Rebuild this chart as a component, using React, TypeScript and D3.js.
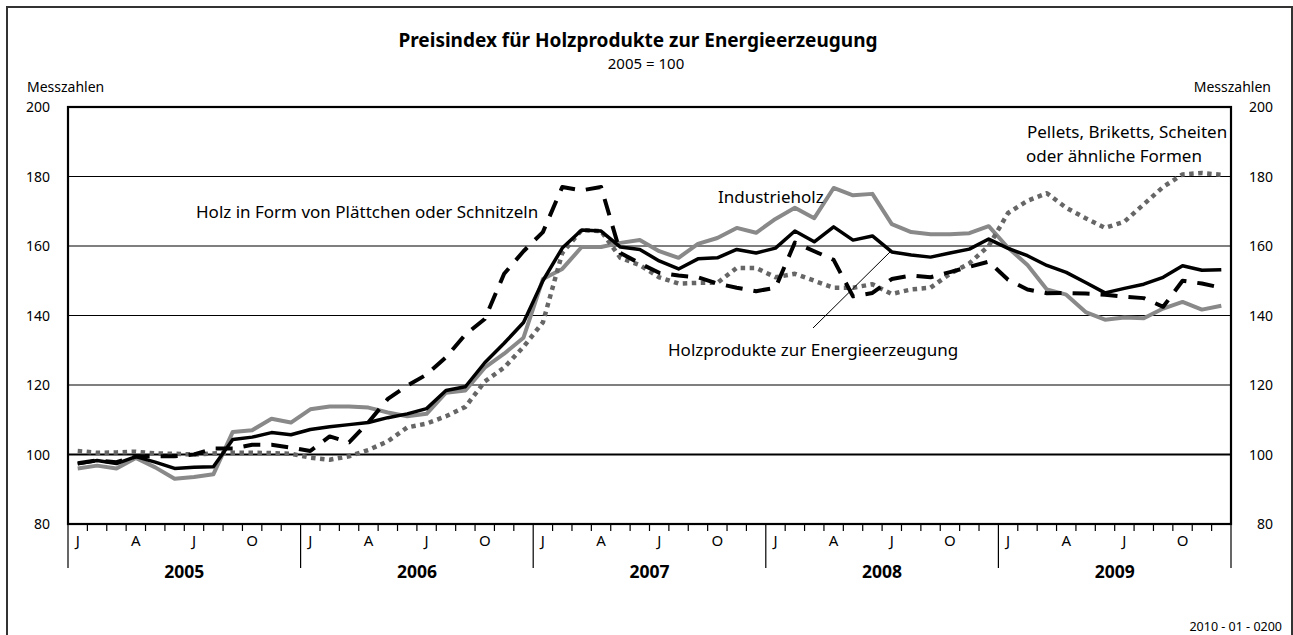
import React from "react";
import { scaleLinear, line, range } from "d3";

const width = 1293;
const height = 635;
const plot = { left: 68, right: 1231, top: 107, bottom: 524 };
const font = "'Noto Sans', 'Open Sans', sans-serif";

const years = ["2005", "2006", "2007", "2008", "2009"];
const quarterLetters = ["J", "A", "J", "O"];
const yTicks = [80, 100, 120, 140, 160, 180, 200];

// Holzprodukte zur Energieerzeugung (black solid)
const energie = [
  97.3, 98.3, 97.4, 99.4, 97.8, 96, 96.3, 96.5, 104.3, 105, 106.3, 105.7,
  107.2, 108, 108.6, 109.2, 110.6, 111.7, 113.2, 118.4, 119.5, 126.4, 132, 138,
  150, 159.4, 164.6, 164.3, 159.7, 159, 155.7, 153.4, 156.3, 156.6, 159, 158,
  159.4, 164.3, 161.2, 165.5, 161.7, 162.9, 158.3, 157.4, 156.8, 158, 159.1, 162,
  159.3, 157.2, 154.4, 152.4, 149.5, 146.5, 147.8, 149, 151, 154.3, 153, 153.2,
];

// Industrieholz (gray solid)
const industrie = [
  96, 96.8, 96, 99, 96.3, 93, 93.5, 94.3, 106.5, 107, 110.3, 109.2,
  113, 113.8, 113.8, 113.5, 112.1, 111, 111.7, 117.8, 118.4, 125, 129, 133.6,
  150.5, 153.4, 159.7, 159.7, 160.9, 161.7, 158.5, 156.6, 160.6, 162.3, 165.2, 163.8,
  167.8, 171, 168, 176.7, 174.6, 175, 166.3, 164, 163.4, 163.4, 163.7, 165.7,
  159.5, 154.5, 147.5, 146, 141, 138.8, 139.4, 139.2, 142, 143.9, 141.7, 142.8,
];

// Holz in Form von Plättchen oder Schnitzeln (black dashed)
const schnitzel = [
  97.5, 98.3, 97.8, 99.4, 99.5, 99.5, 100, 101.7, 101.7, 102.8, 102.8, 102,
  101, 105.2, 103.5, 109.3, 116, 119.8, 123, 128, 134.5, 139, 152, 158.5,
  164, 177, 176, 177, 158, 155, 152.3, 151.5, 151, 149.2, 148, 147,
  148, 161, 158.5, 156, 145.5, 146.5, 150.5, 151.5, 151, 152.5, 154, 155.5,
  150.3, 147.5, 146.4, 146.5, 146.3, 146, 145.4, 145, 142.5, 150, 149.2, 148,
];

// Pellets, Briketts, Scheiten oder ähnliche Formen (gray dotted)
const pellets = [
  101, 100.5, 100.6, 100.8, 100.3, 100.2, 100, 100.3, 100.5, 100.5, 100.4, 100.2,
  99.1, 98.5, 99.5, 101.3, 103.8, 107.8, 108.9, 111, 113.7, 121, 125, 131,
  138, 158, 164.6, 164.3, 156.6, 154.5, 151, 149.2, 149.4, 149.4, 153.7, 153.7,
  151, 152, 150, 148, 148, 149, 146.2, 147.5, 148, 152, 155, 160,
  169.5, 173, 175.2, 171, 168, 165.2, 167, 172, 177, 180.6, 181, 180.5,
];

const series = [
  { name: "industrie", values: industrie, stroke: "#898989", width: 4, dash: null },
  { name: "pellets", values: pellets, stroke: "#666666", width: 4.5, dash: "4.5,4.5" },
  { name: "energie", values: energie, stroke: "#000000", width: 3.5, dash: null },
  { name: "schnitzel", values: schnitzel, stroke: "#000000", width: 4, dash: "17,11" },
];

export default function App() {
  const x = scaleLinear().domain([0, 60]).range([plot.left, plot.right]);
  const y = scaleLinear().domain([80, 200]).range([plot.bottom, plot.top]);
  const path = line<number>()
    .x((_, i) => x(i + 0.5))
    .y((d) => y(d));

  return (
    <svg
      width={width}
      height={height}
      style={{ position: "absolute", left: 0, top: 0, display: "block", background: "#fff" }}
      fontFamily={font}
    >
      <rect x={7} y={7} width={1285} height={700} fill="#fff" stroke="#333" strokeWidth={2} />

      <text x={638} y={47} textAnchor="middle" fontSize={19} fontWeight="bold">
        Preisindex für Holzprodukte zur Energieerzeugung
      </text>
      <text x={646} y={69} textAnchor="middle" fontSize={15}>
        2005 = 100
      </text>

      <text x={27} y={92} fontSize={14}>Messzahlen</text>
      <text x={1271} y={92} fontSize={14} textAnchor="end">Messzahlen</text>

      {/* grid */}
      {yTicks.slice(1, -1).map((t) => (
        <line
          key={t}
          x1={plot.left}
          x2={plot.right}
          y1={y(t)}
          y2={y(t)}
          stroke="#000"
          strokeWidth={t === 100 ? 2.2 : 1.2}
        />
      ))}

      {yTicks.map((t) => (
        <g key={t} fontSize={14}>
          <text x={50} y={y(t)} dy="0.38em" textAnchor="end">{t}</text>
          <text x={1273} y={y(t)} dy="0.38em" textAnchor="end">{t}</text>
        </g>
      ))}

      {/* series */}
      {series.map((s) => (
        <path
          key={s.name}
          d={path(s.values) || ""}
          fill="none"
          stroke={s.stroke}
          strokeWidth={s.width}
          strokeDasharray={s.dash || undefined}
          strokeLinejoin="round"
        />
      ))}

      {/* plot frame */}
      <rect
        x={plot.left}
        y={plot.top}
        width={plot.right - plot.left}
        height={plot.bottom - plot.top}
        fill="none"
        stroke="#000"
        strokeWidth={2.2}
      />

      {/* month ticks */}
      {range(1, 60).map((m) => (
        <line
          key={m}
          x1={x(m)}
          x2={x(m)}
          y1={plot.bottom}
          y2={m % 12 === 0 ? plot.bottom + 44 : plot.bottom + 7}
          stroke="#000"
          strokeWidth={1.2}
        />
      ))}
      {[0, 60].map((m) => (
        <line key={m} x1={x(m)} x2={x(m)} y1={plot.bottom} y2={plot.bottom + 44} stroke="#000" strokeWidth={1.2} />
      ))}

      {years.map((yr, yi) => (
        <g key={yr}>
          {quarterLetters.map((q, qi) => (
            <text
              key={qi}
              x={x(yi * 12 + qi * 3 + 0.5)}
              y={plot.bottom + 22}
              textAnchor="middle"
              fontSize={15}
            >
              {q}
            </text>
          ))}
          <text
            x={x(yi * 12 + 6)}
            y={plot.bottom + 54}
            textAnchor="middle"
            fontSize={17.5}
            fontWeight="bold"
          >
            {yr}
          </text>
        </g>
      ))}

      {/* annotations */}
      <g fontSize={17}>
        <text x={196} y={218}>Holz in Form von Plättchen oder Schnitzeln</text>
        <text x={718} y={203}>Industrieholz</text>
        <text x={1027} y={138}>Pellets, Briketts, Scheiten</text>
        <text x={1026} y={162}>oder ähnliche Formen</text>
        <text x={668} y={356}>Holzprodukte zur Energieerzeugung</text>
      </g>
      <line x1={813} y1={328} x2={891} y2={251} stroke="#000" strokeWidth={1} />

      <text x={1282} y={631} textAnchor="end" fontSize={12.5}>
        2010 - 01 - 0200
      </text>
    </svg>
  );
}
